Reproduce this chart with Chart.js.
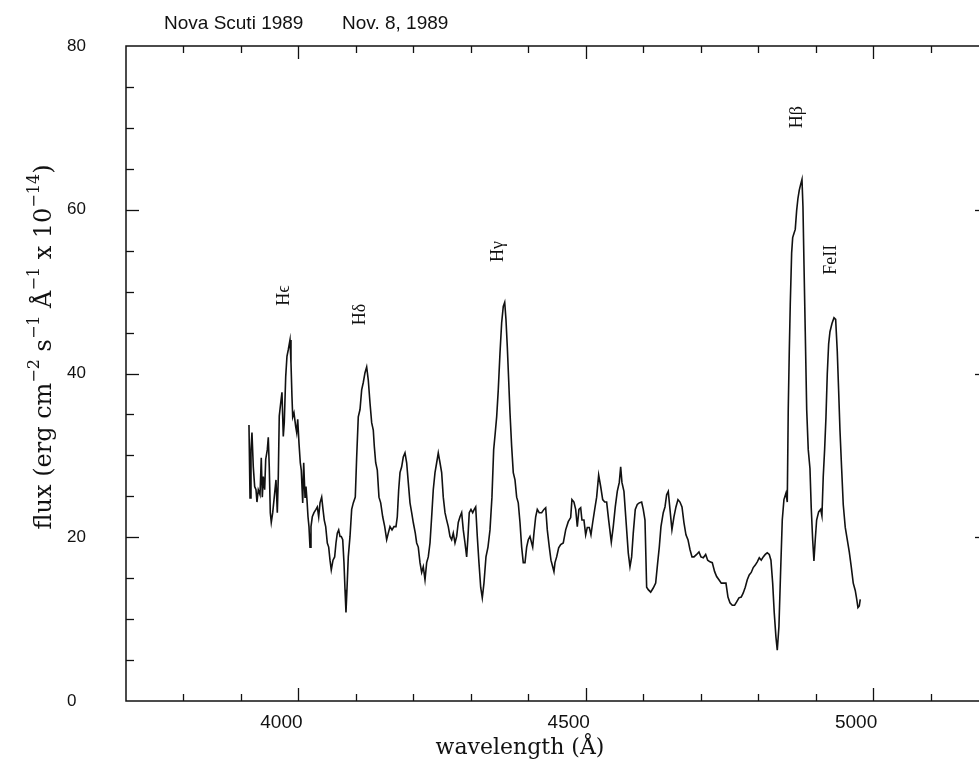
<!DOCTYPE html>
<html><head><meta charset="utf-8">
<script src="https://cdn.jsdelivr.net/npm/chart.js@4.4.1/dist/chart.umd.min.js"></script>
<style>
html,body{margin:0;padding:0;overflow:hidden;background:#fff;width:979px;height:763px}
#wrap{position:absolute;left:0;top:0;width:1000px;height:763px}
</style></head><body>
<div id="wrap"><canvas id="c" width="1000" height="763"></canvas></div>
<script>
// ---- data ----
const wavelength = [
3914.0,3915.8,3917.5,3919.2,3921.5,3923.9,3926.2,3927.9,3930.2,3933.2,3935.4,3937.2,3938.9,3941.3,3943.1,3945.9,3947.6,3949.3,3951.1,3952.8,3955.3,3958.0,3961.0,3963.3,3965.0,
3966.7,3969.2,3971.4,3973.7,3975.4,3977.9,3980.1,3982.4,3985.4,3987.1,3988.8,3990.1,3992.3,3995.3,3997.0,3998.8,4001.0,4003.3,4005.0,4007.5,4009.2,4011.5,4013.2,4014.9,4016.7,
4018.4,4020.2,4021.9,4024.2,4027.1,4030.6,4032.9,4035.3,4037.6,4040.5,4042.8,4045.0,4047.5,4050.3,4052.7,4055.0,4057.2,4060.2,4063.1,4065.4,4067.7,4070.1,4072.4,4074.6,4077.1,
4079.3,4081.1,4082.8,4084.5,4086.8,4089.8,4092.7,4095.5,4099.0,4101.4,4104.2,4107.2,4110.1,4112.9,4115.9,4118.8,4121.6,4124.6,4127.5,4130.3,4132.1,4134.5,4137.3,4140.2,4143.2,
4146.7,4150.2,4153.6,4156.4,4159.4,4162.9,4166.3,4169.8,4172.1,4174.5,4176.8,4179.7,4182.5,4185.5,4188.4,4191.2,4194.2,4197.1,4199.9,4203.4,4205.8,4208.6,4211.6,4214.5,4217.3,
4220.3,4223.2,4226.0,4229.0,4231.9,4234.7,4237.7,4240.6,4243.4,4246.4,4249.3,4252.1,4255.1,4258.0,4260.8,4263.8,4266.7,4269.5,4272.5,4275.4,4278.2,4281.2,4284.1,4286.9,4289.9,
4292.8,4295.1,4297.3,4300.3,4303.3,4306.0,4308.5,4311.3,4314.2,4317.2,4320.0,4322.9,4326.4,4329.9,4333.4,4336.8,4339.8,4342.6,4345.0,4347.8,4350.8,4353.7,4356.5,4359.0,4361.2,
4363.5,4365.9,4368.2,4371.1,4373.9,4376.9,4379.8,4382.6,4385.6,4388.5,4391.3,4394.3,4397.2,4400.0,4403.0,
4407.7,4409.9,4412.9,4415.7,4419.1,4423.3,4427.3,4430.3,4433.1,4436.6,4439.5,4442.5,4444.7,4446.5,4449.4,4452.9,4456.4,4460.9,4465.1,4469.6,4473.8,4476.0,4479.5,4482.5,4485.3,4488.2,4491.2,4493.4,4496.9,4499.9,
4502.7,4506.2,4509.1,4512.1,4515.6,4519.0,4522.5,4526.0,4529.5,4533.0,4536.4,4539.9,4544.5,4547.9,4551.4,4554.9,4558.4,4560.8,4563.0,4566.5,4570.0,4574.0,4577.0,4579.9,4582.7,4586.2,4589.7,4593.1,4597.3,4600.1,
4603.1,4606.0,4608.8,4613.0,4617.5,4621.7,4625.2,4628.0,4630.9,4634.9,4637.9,4640.8,4643.6,4646.6,4650.0,4653.5,4657.0,4660.5,4664.0,4667.5,4670.9,4674.4,4677.9,4681.4,4684.9,4688.4,4693.0,4697.0,4700.5,4704.5,
4708.7,4712.2,4716.2,4720.2,4724.3,4727.8,4731.8,4735.9,4740.5,4744.0,4747.5,4751.0,4755.0,4759.1,4762.6,4766.6,4770.6,4774.1,4777.6,4781.1,4784.5,4788.0,4791.5,4795.0,4798.5,4802.0,4805.4,4808.9,4812.4,4815.9,
4819.4,4822.3,4825.3,4828.0,4831.0,4833.3,4836.2,4839.2,4842.0,4844.9,4848.4,4850.7,4852.4,4854.2,4855.9,4858.3,4860.1,4862.3,4864.6,4867.0,4869.3,4871.6,4874.0,4876.3,4878.0,4879.8,4882.0,4884.5,4887.2,4890.2,
4892.4,4894.9,4897.1,4899.4,4901.8,4905.3,4908.8,4911.0,4913.3,4915.7,4918.0,4920.3,4922.7,4925.0,4928.5,4932.0,4934.9,4937.7,4940.1,4942.4,4945.3,4948.1,4951.6,4955.1,4958.6,4962.0,4965.5,4969.0,4971.4,4973.7,4976.0,4977.7
];
const flux = [
33.7,24.8,30.7,32.8,28.6,26.2,25.8,24.3,25.8,25.2,29.7,24.9,27.4,25.8,29.5,30.7,32.2,28.6,23.0,21.8,23.0,24.9,27.0,23.0,27.4,
34.8,36.4,37.7,32.3,34.0,39.6,42.1,42.9,44.1,41.3,37.2,34.7,35.2,33.5,32.8,34.4,31.5,29.1,28.2,24.2,29.1,24.9,26.2,24.6,22.5,
21.3,18.8,21.3,22.5,23.0,23.4,23.7,22.5,24.2,24.9,23.4,22.1,21.3,19.3,18.8,17.2,16.0,17.2,17.6,19.3,20.5,20.9,20.1,20.1,19.7,
16.9,13.6,10.8,13.6,17.6,20.1,23.4,24.2,24.9,29.8,34.7,35.6,38.0,38.9,40.1,40.8,39.2,36.4,34.0,33.1,31.1,29.1,28.2,24.9,24.2,
22.5,21.3,19.7,20.5,21.3,20.9,21.3,21.3,22.5,25.8,27.9,28.6,29.8,30.3,29.1,26.7,24.2,23.0,21.8,20.5,19.3,18.8,16.9,15.7,16.4,
14.8,16.9,17.6,19.3,22.5,25.8,27.9,29.1,30.3,29.1,27.9,24.9,23.0,22.1,21.3,20.1,19.7,20.5,19.3,20.1,21.8,22.5,23.0,20.9,19.3,
17.6,20.1,23.0,23.4,23.0,23.4,23.7,20.1,16.9,13.9,12.6,14.4,17.6,18.8,20.9,24.9,30.7,32.8,34.7,38.0,42.5,46.2,48.2,48.7,46.6,
43.3,39.2,35.2,31.1,27.9,27.0,24.9,24.2,21.8,18.8,16.9,16.9,18.8,19.7,20.1,
18.8,20.5,22.5,23.4,23.0,23.0,23.4,23.6,20.9,18.8,17.2,16.4,15.8,16.9,17.6,18.7,19.1,19.3,20.9,21.9,22.4,24.6,24.3,23.4,21.3,23.4,23.6,22.1,22.1,20.3,
21.2,21.2,20.3,21.8,23.4,24.9,27.6,26.2,24.6,24.3,24.3,22.1,19.4,21.3,23.7,25.6,26.7,28.6,26.7,25.6,22.1,18.1,16.4,17.6,20.5,23.4,24.0,24.2,24.3,23.4,
22.1,13.9,13.6,13.3,13.8,14.4,16.9,18.8,21.3,23.0,23.7,25.2,25.6,23.4,20.9,22.5,23.7,24.6,24.3,23.7,21.8,20.3,19.7,18.5,17.6,17.6,17.9,18.2,17.6,17.5,
17.9,17.2,17.0,16.9,15.8,15.2,14.8,14.4,14.4,14.4,12.7,12.0,11.7,11.7,12.1,12.6,12.7,13.2,13.9,14.8,15.4,15.7,16.3,16.6,17.0,17.5,17.2,17.6,17.9,18.1,
17.9,17.2,14.4,10.8,7.8,6.2,9.1,16.0,22.1,24.6,25.4,24.3,35.6,42.7,48.4,54.7,56.6,57.1,57.6,59.9,61.4,62.4,63.1,63.7,60.4,53.3,45.1,35.6,30.7,28.4,
23.6,19.7,17.1,19.7,22.1,23.1,23.4,22.6,27.4,30.7,34.6,39.9,43.6,45.1,46.1,46.8,46.6,42.7,37.9,33.1,28.4,24.0,21.2,19.7,18.2,16.4,14.4,13.5,12.5,11.4,11.6,12.4
];
if (wavelength.length !== flux.length) throw new Error('length mismatch ' + wavelength.length + ' vs ' + flux.length);

const xTickValues = [4000, 4500, 5000];
const yTickValues = [0, 20, 40, 60, 80];
const lineNames = ['H\u03F5', 'H\u03B4', 'H\u03B3', 'H\u03B2', 'FeII'];
const lineLabelWavelength = [3975, 4107, 4347, 4868, 4927];
const lineLabelFlux = [49.5, 47.2, 54.9, 71.3, 53.9];
const titleLeft = 'Nova Scuti 1989';
const titleRight = 'Nov. 8, 1989';
const xAxisTitle = 'wavelength (\u00C5)';
const yAxisTitleParts = [
  {t: 'flux (erg cm'}, {t: '\u22122', sup: true}, {t: ' s'}, {t: '\u22121', sup: true},
  {t: ' \u00C5'}, {t: '\u22121', sup: true}, {t: ' x 10'}, {t: '\u221214', sup: true}, {t: ')'}
];

// ---- drawing ----
const INK = '#111111';
const SANS = '"Liberation Sans", Arial, Helvetica, sans-serif';
const SERIF = '"DejaVu Serif", "Liberation Serif", serif';
const LSERIF = '"Liberation Serif", "DejaVu Serif", serif';

const decor = {
  id: 'decor',
  afterDraw(chart) {
    const {ctx, chartArea: a, scales: {x, y}} = chart;
    ctx.save();
    ctx.strokeStyle = INK;
    ctx.fillStyle = INK;
    ctx.lineWidth = 1.5;
    ctx.strokeRect(a.left, a.top, a.right - a.left, a.bottom - a.top);
    const seg = (x1, y1, x2, y2) => { ctx.beginPath(); ctx.moveTo(x1, y1); ctx.lineTo(x2, y2); ctx.stroke(); };
    ctx.lineWidth = 1.3;
    for (let v = 3800; v <= 5100; v += 100) {
      const px = Math.round(x.getPixelForValue(v)) + 0.5;
      const L = v % 500 === 0 ? 13 : 7;
      seg(px, a.bottom, px, a.bottom - L);
      seg(px, a.top, px, a.top + L);
    }
    for (let v = 5; v < 80; v += 5) {
      const py = Math.round(y.getPixelForValue(v)) + 0.5;
      const L = v % 20 === 0 ? 13 : 8;
      seg(a.left, py, a.left + L, py);
      seg(a.right, py, a.right - L, py);
    }
    // top title
    ctx.textBaseline = 'alphabetic';
    ctx.textAlign = 'left';
    ctx.font = '19px ' + SANS;
    ctx.fillText(titleLeft, 164, 29);
    ctx.fillText(titleRight, 342, 29);
    // x axis title
    ctx.textAlign = 'center';
    ctx.font = '22px ' + SERIF;
    ctx.fillText(xAxisTitle, 520, 754);
    // y axis title with superscripts
    ctx.save();
    ctx.translate(51, 347);
    ctx.rotate(-Math.PI / 2);
    ctx.textAlign = 'left';
    const base = 24;
    let total = 0;
    const items = yAxisTitleParts.map(p => {
      const fs = p.sup ? Math.round(base * 0.66) : base;
      ctx.font = fs + 'px ' + SERIF;
      const w = ctx.measureText(p.t).width;
      total += w;
      return {p, fs, w};
    });
    let cx = -total / 2;
    items.forEach(it => {
      ctx.font = it.fs + 'px ' + SERIF;
      ctx.fillText(it.p.t, cx, it.p.sup ? -base * 0.5 : 0);
      cx += it.w;
    });
    ctx.restore();
    // spectral line labels
    ctx.font = '18px ' + LSERIF;
    ctx.textAlign = 'center';
    ctx.textBaseline = 'middle';
    lineNames.forEach((name, i) => {
      const px = x.getPixelForValue(lineLabelWavelength[i]);
      const py = y.getPixelForValue(lineLabelFlux[i]);
      ctx.save();
      ctx.translate(px, py);
      ctx.rotate(-Math.PI / 2);
      ctx.fillText(name, 0, 0);
      ctx.restore();
    });
    ctx.restore();
  }
};

new Chart(document.getElementById('c').getContext('2d'), {
  type: 'line',
  data: {
    datasets: [{
      data: wavelength.map((w, i) => ({x: w, y: flux[i]})),
      borderColor: INK,
      borderWidth: 1.6,
      pointRadius: 0,
      tension: 0,
      fill: false
    }]
  },
  options: {
    responsive: false,
    devicePixelRatio: 1,
    animation: false,
    parsing: false,
    layout: {padding: {left: 67, top: 46, right: 12, bottom: 0}},
    plugins: {legend: {display: false}, tooltip: {enabled: false}, title: {display: false}},
    scales: {
      x: {
        type: 'linear', position: 'bottom', min: 3700, max: 5200,
        grid: {display: false, drawTicks: false},
        border: {display: false},
        afterBuildTicks: s => { s.ticks = xTickValues.map(v => ({value: v})); },
        afterFit: s => { s.height = 62; },
        ticks: {
          color: INK, font: {family: SANS, size: 19}, padding: 10, labelOffset: -17,
          maxRotation: 0, autoSkip: false, callback: v => String(v)
        }
      },
      y: {
        type: 'linear', position: 'left', min: 0, max: 80,
        grid: {display: false, drawTicks: false},
        border: {display: false},
        afterBuildTicks: s => { s.ticks = yTickValues.map(v => ({value: v})); },
        afterFit: s => { s.width = 59; },
        ticks: {color: INK, font: {family: SANS, size: 17}, crossAlign: 'far', padding: 0, callback: v => String(v)}
      }
    }
  },
  plugins: [decor]
});
</script>
</body></html>
